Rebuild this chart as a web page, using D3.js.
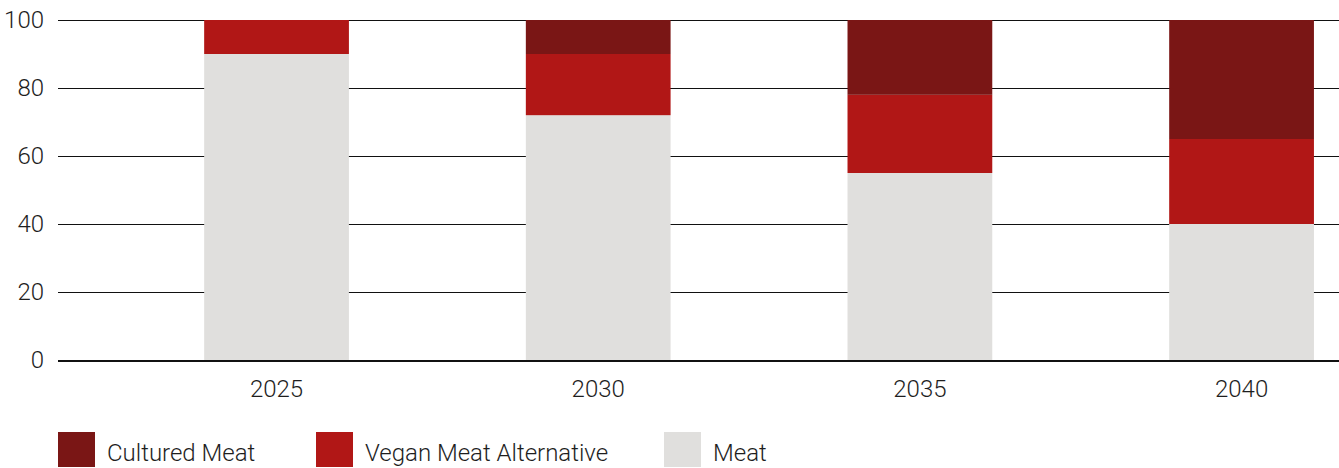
<!DOCTYPE html>
<html>
<head>
  <meta charset="utf-8" />
  <title>Meat market share</title>
  <script src="https://d3js.org/d3.v7.min.js"></script>
  <style>
    body { margin: 0; background: #fff; }
    text { font-family: "Roboto", "Liberation Sans", sans-serif; font-weight: 300; fill: #1e1e1e; }
  </style>
</head>
<body>
  <script>
    // data
    const years = ["2025", "2030", "2035", "2040"];
    const meat = [90, 72, 55, 40];
    const vegan = [10, 18, 23, 25];
    const cultured = [0, 10, 22, 35];
    const seriesNames = ["Cultured Meat", "Vegan Meat Alternative", "Meat"];
    const seriesColors = ["#7a1615", "#b11716", "#e0dfdd"];
    const yTicks = [0, 20, 40, 60, 80, 100];

    const width = 1339, height = 468;
    const plotLeft = 58, plotRight = 1339, plotTop = 20, plotBottom = 360;

    const svg = d3.select("body").append("svg")
      .attr("width", width)
      .attr("height", height);

    // stack order bottom -> top: meat, vegan, cultured
    const rows = years.map((y, i) => ({ year: y, meat: meat[i], vegan: vegan[i], cultured: cultured[i] }));
    const keys = ["meat", "vegan", "cultured"];
    const colorOf = { meat: seriesColors[2], vegan: seriesColors[1], cultured: seriesColors[0] };
    const stacked = d3.stack().keys(keys)(rows);

    // the bands sit a bit right of the axis start in the original
    const x = d3.scaleBand().domain(years).range([115.7, 1402.4]).paddingInner(0.55).paddingOuter(0.275);
    const y = d3.scaleLinear().domain([0, 100]).range([plotBottom, plotTop]);

    // gridlines
    svg.append("g")
      .selectAll("line")
      .data(yTicks.filter(d => d > 0))
      .enter()
      .append("line")
      .attr("x1", plotLeft).attr("x2", plotRight)
      .attr("y1", d => Math.round(y(d)) + 0.5).attr("y2", d => Math.round(y(d)) + 0.5)
      .style("stroke", "#111")
      .style("stroke-width", 1.2);

    // bars
    svg.append("g")
      .selectAll("g")
      .data(stacked)
      .enter()
      .append("g")
      .attr("fill", d => colorOf[d.key])
      .selectAll("rect")
      .data(d => d)
      .enter()
      .append("rect")
      .attr("x", d => x(d.data.year))
      .attr("width", x.bandwidth())
      .attr("y", d => y(d[1]))
      .attr("height", d => y(d[0]) - y(d[1]));

    // zero line
    svg.append("line")
      .attr("x1", plotLeft).attr("x2", plotRight)
      .attr("y1", y(0) + 1).attr("y2", y(0) + 1)
      .style("stroke", "#111")
      .style("stroke-width", 2);

    // y tick labels
    svg.append("g")
      .selectAll("text")
      .data(yTicks)
      .enter()
      .append("text")
      .attr("x", 44)
      .attr("y", d => y(d) + 7.5)
      .attr("text-anchor", "end")
      .style("font-size", "24px")
      .text(d => d);

    // x tick labels
    svg.append("g")
      .selectAll("text")
      .data(years)
      .enter()
      .append("text")
      .attr("x", d => x(d) + x.bandwidth() / 2)
      .attr("y", 397)
      .attr("text-anchor", "middle")
      .style("font-size", "24px")
      .text(d => d);

    // legend
    const legendX = [58, 316, 664];
    const legend = svg.append("g")
      .selectAll("g")
      .data(seriesNames)
      .enter()
      .append("g")
      .attr("transform", (d, i) => `translate(${legendX[i]}, 432)`);
    legend.append("rect")
      .attr("width", 37)
      .attr("height", 35)
      .attr("fill", (d, i) => seriesColors[i]);
    legend.append("text")
      .attr("x", 49)
      .attr("y", 29)
      .style("font-size", "24px")
      .text(d => d);
  </script>
</body>
</html>
